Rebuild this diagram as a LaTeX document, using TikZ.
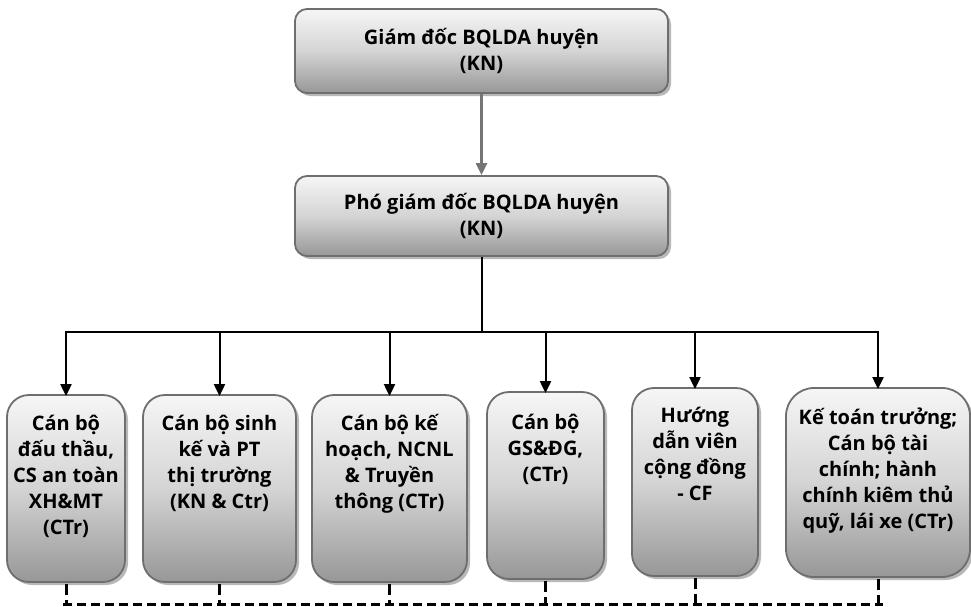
\documentclass[tikz,border=0pt]{standalone}
\usepackage{fontspec}
\setmainfont{Open Sans}
\usetikzlibrary{arrows.meta,shadows}
\definecolor{grtop}{HTML}{F6F6F6}
\definecolor{grmid}{HTML}{D4D4D4}
\definecolor{grbot}{HTML}{979797}
\definecolor{bordergray}{HTML}{6E6E6E}
\definecolor{shadowgray}{HTML}{B8B8B8}
\definecolor{linkgray}{HTML}{757575}
\tikzset{
  box/.style={draw=bordergray, line width=1.8pt, top color=grtop, bottom color=grbot, middle color=grmid,
    inner sep=0pt, font=\bfseries\fontsize{20}{26}\selectfont,
    drop shadow={shadow xshift=3pt, shadow yshift=-3pt, fill=shadowgray, opacity=1}},
  headbox/.style={box, rounded corners=12pt, minimum width=373pt, align=center},
  staffbox/.style={box, rounded corners=22pt},
  feed/.style={-{Triangle[length=12pt,width=11pt]}, line width=2pt, black},
  grayfeed/.style={-{Triangle[length=12pt,width=11pt]}, line width=2.2pt, linkgray},
  trunk/.style={line width=2pt, black},
  dashline/.style={line width=3pt, black, dash pattern=on 9pt off 5pt},
  stub/.style={line width=3pt, black, dash pattern=on 11pt off 5pt}
}
% #1 width, #2 height, #3 first baseline below top, #4 text
\newcommand{\staff}[4]{\begin{minipage}[c][#2pt][t]{#1pt}\centering\rule{0pt}{#3pt}#4\end{minipage}}
\begin{document}
\begin{tikzpicture}[x=1pt,y=-1pt]
\useasboundingbox (0,0) rectangle (971,606);
\node[headbox, minimum height=84pt] (gd) at (481.5,51) {Giám đốc BQLDA huyện\\(KN)};
\node[headbox, minimum height=80pt] (pgd) at (481.5,216) {Phó giám đốc BQLDA huyện\\(KN)};

\node[staffbox] (s1) at (66,488.5) {\staff{118}{187}{35}{Cán bộ\\đấu thầu,\\CS an toàn\\XH\&MT\\(CTr)}};
\node[staffbox] (s2) at (219.5,488.5) {\staff{153}{187}{35}{Cán bộ sinh\\kế và PT\\thị trường\\(KN \& Ctr)}};
\node[staffbox] (s3) at (389.5,488.5) {\staff{155}{187}{35}{Cán bộ kế\\hoạch, NCNL\\\& Truyền\\thông (CTr)}};
\node[staffbox] (s4) at (545.5,485.5) {\staff{117}{187}{37}{Cán bộ\\GS\&ĐG,\\(CTr)}};
\node[staffbox] (s5) at (695,482) {\staff{126}{188}{34}{Hướng\\dẫn viên\\cộng đồng\\- CF}};
\node[staffbox, rounded corners=28pt] (s6) at (878,482.5) {\staff{184}{189}{36}{Kế toán trưởng;\\Cán bộ tài\\chính; hành\\chính kiêm thủ\\quỹ, lái xe (CTr)}};

\draw[grayfeed] (gd) -- (pgd);

\coordinate (hub) at (481.5,332);
\coordinate (busL) at (66,332);
\coordinate (busR) at (878,332);
\draw[trunk] (pgd.south) -- (hub);
\draw[trunk, line cap=rect] (busL) -- (busR);
\foreach \s in {s1,s2,s3,s4,s5,s6}{
  \draw[feed] (\s.north |- hub) -- ([yshift=-2pt]\s.north);
}

\coordinate (dl) at (63,604.5);
\coordinate (dr) at (883,604.5);
\draw[dashline] (dl) -- (dr);
\foreach \s in {s1,s2,s3,s4,s5,s6}{
  \draw[stub] ([yshift=-1pt]\s.south) -- (\s.south |- dl);
}
\end{tikzpicture}
\end{document}
